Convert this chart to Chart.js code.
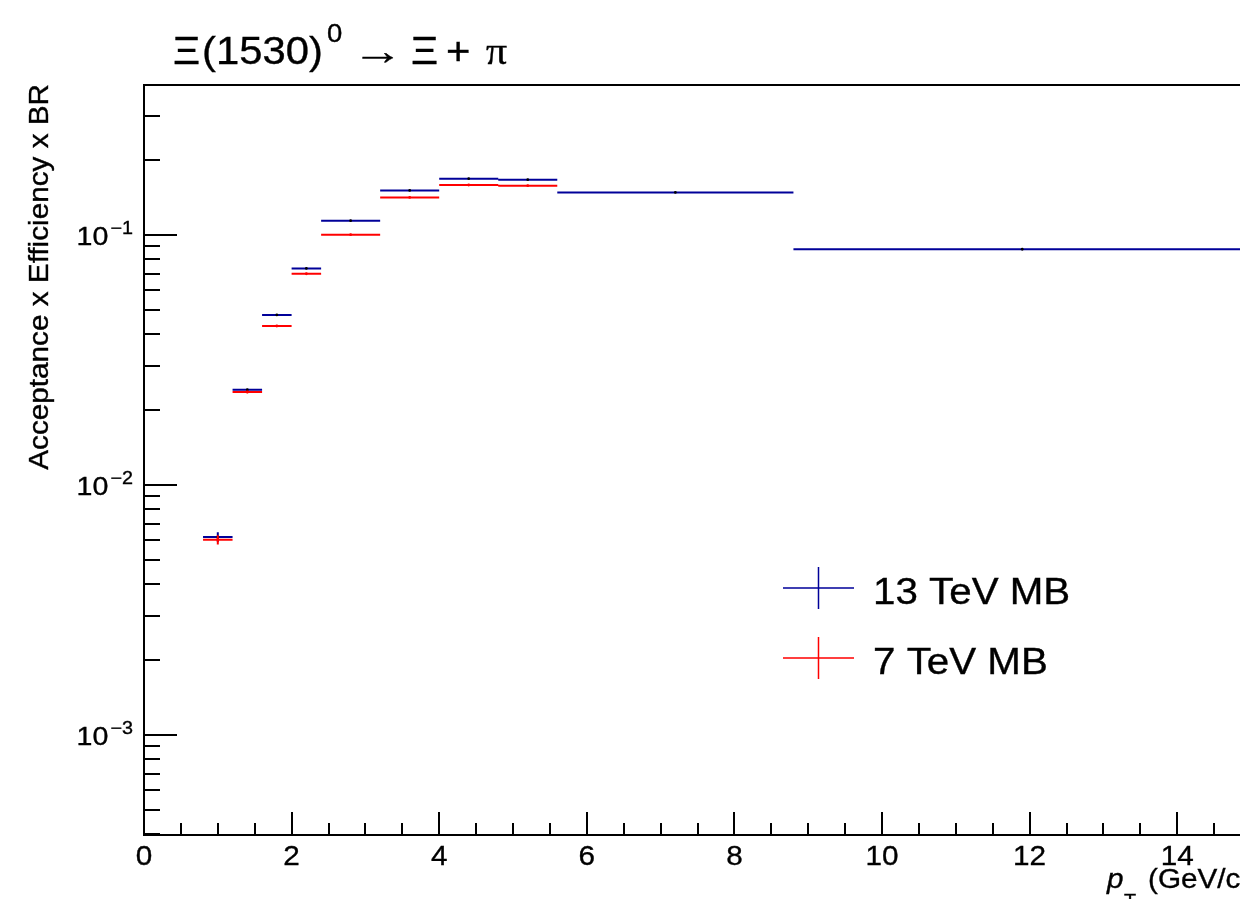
<!DOCTYPE html>
<html>
<head>
<meta charset="utf-8">
<script src="https://cdn.jsdelivr.net/npm/chart.js@4.4.1/dist/chart.umd.min.js"></script>
<style>
  html, body { margin: 0; padding: 0; overflow: hidden; background: #ffffff; }
  #wrap { width: 1240px; height: 899px; overflow: hidden; position: relative; }
  canvas { display: block; }
</style>
</head>
<body>
<div id="wrap"><canvas id="c" width="1300" height="899"></canvas></div>
<script>
// pT bin edges in GeV/c
const binEdges13 = [0.8, 1.2, 1.6, 2.0, 2.4, 3.2, 4.0, 4.8, 5.6, 8.8, 15.0];
const binEdges7  = [0.8, 1.2, 1.6, 2.0, 2.4, 3.2, 4.0, 4.8, 5.6];

// Acceptance x Efficiency x BR per bin, with statistical errors
const eff13 = [0.00619, 0.02405, 0.0479, 0.0735, 0.1141, 0.1508, 0.1680, 0.1664, 0.1480, 0.0877];
const err13 = [0.00028, 0.00022, 0.00033, 0.00040, 0.00050, 0.00060, 0.00060, 0.00060, 0.00050, 0.00040];
const eff7  = [0.00604, 0.02355, 0.04325, 0.0700, 0.1003, 0.1413, 0.1585, 0.1575];
const err7  = [0.00026, 0.00025, 0.00030, 0.00040, 0.00050, 0.00060, 0.00060, 0.00060];

const seriesNames  = ['13 TeV MB', '7 TeV MB'];
const seriesColors = ['#000099', '#ff0000'];

// axis labelling
const xTickValues    = [0, 2, 4, 6, 8, 10, 12, 14];
const yTickExponents = [-3, -2, -1];
const xRange = [0, 15];
const yRange = [Math.pow(10, -3.4), Math.pow(10, -0.4)];

// Horizontal bin-width bar plus vertical error bar for every bin,
// separated by null gaps so the line breaks between pieces.
function histPoints(edges, vals, errs) {
  const pts = [];
  for (let i = 0; i < vals.length; i++) {
    const lo = edges[i], hi = edges[i + 1], c = (lo + hi) / 2;
    const v = vals[i], e = errs[i];
    pts.push({x: lo, y: v}, {x: hi, y: v}, {x: hi, y: null});
    pts.push({x: c, y: v - e}, {x: c, y: v + e}, {x: c, y: null});
  }
  return pts;
}
function centerPoints(edges, vals) {
  return vals.map((v, i) => ({x: (edges[i] + edges[i + 1]) / 2, y: v}));
}

const FONT = '"Liberation Sans", Arial, Helvetica, sans-serif';
const SERIF = '"Liberation Serif", "Times New Roman", serif';
const STRETCH = 1.1;

function drawText(ctx, s, x, y, font, align, stretch, rot) {
  ctx.save();
  ctx.translate(x, y);
  if (rot) ctx.rotate(rot);
  ctx.scale(stretch, 1);
  ctx.font = font;
  ctx.textAlign = align;
  ctx.textBaseline = 'alphabetic';
  ctx.fillStyle = '#000';
  ctx.strokeStyle = '#000';
  ctx.lineWidth = 0.35;
  ctx.fillText(s, 0, 0);
  ctx.strokeText(s, 0, 0);
  ctx.restore();
}
function textWidth(ctx, s, font, stretch) {
  ctx.save();
  ctx.font = font;
  const w = ctx.measureText(s).width * stretch;
  ctx.restore();
  return w;
}
function fitText(ctx, s, x, y, font, width) {
  const w = textWidth(ctx, s, font, 1);
  drawText(ctx, s, x, y, font, 'left', width / w, 0);
}

// Frame, inward ticks, tick labels, titles and legend
const decorations = {
  id: 'decorations',
  afterDraw(chart) {
    const ctx = chart.ctx;
    const xs = chart.scales.x, ys = chart.scales.y;
    const a = chart.chartArea;
    ctx.save();
    ctx.strokeStyle = '#000';
    ctx.lineWidth = 2;
    ctx.strokeRect(a.left, a.top, a.right - a.left, a.bottom - a.top);

    // x ticks: major every 2, minor every 0.5
    ctx.lineWidth = 2;
    ctx.beginPath();
    for (let k = 0; k * 0.5 <= xRange[1]; k++) {
      const px = Math.round(xs.getPixelForValue(k * 0.5));
      const len = (k % 4 === 0) ? 23 : 12;
      ctx.moveTo(px, a.bottom);
      ctx.lineTo(px, a.bottom - len);
    }
    // y ticks: decades long, 2..9 short
    for (let d = -4; d <= 0; d++) {
      for (let m = 1; m <= 9; m++) {
        const v = m * Math.pow(10, d);
        if (v < yRange[0] || v > yRange[1]) continue;
        const py = Math.round(ys.getPixelForValue(v));
        const len = (m === 1) ? 33 : 16;
        ctx.moveTo(a.left, py);
        ctx.lineTo(a.left + len, py);
      }
    }
    ctx.stroke();

    // x tick labels
    xTickValues.forEach(v => {
      drawText(ctx, String(v), xs.getPixelForValue(v), 865, '27px ' + FONT, 'center', STRETCH, 0);
    });
    // y tick labels as 10 with a raised exponent
    yTickExponents.forEach(e => {
      const py = ys.getPixelForValue(Math.pow(10, e));
      const sup = '\u2212' + Math.abs(e);
      const supFont = '18px ' + FONT;
      const supW = textWidth(ctx, sup, supFont, STRETCH);
      drawText(ctx, sup, 133, py - 1, supFont, 'right', STRETCH, 0);
      drawText(ctx, '10', 133 - supW - 2, py + 10, '26px ' + FONT, 'right', STRETCH, 0);
    });

    // y axis title, rotated, ending at the top of the frame
    drawText(ctx, 'Acceptance x Efficiency x BR', 48, a.top - 1, '27px ' + FONT, 'right', STRETCH, -Math.PI / 2);

    // x axis title
    drawText(ctx, 'p', 1107, 888, 'italic 27px ' + FONT, 'left', STRETCH, 0);
    drawText(ctx, 'T', 1124, 907, '18px ' + FONT, 'left', STRETCH, 0);
    drawText(ctx, '(GeV/c)', 1148, 888, '27px ' + FONT, 'left', STRETCH, 0);

    // title
    const tf = '38px ' + FONT;
    drawText(ctx, '\u039E', 173, 64, tf, 'left', STRETCH, 0);
    drawText(ctx, '(1530)', 202, 64, tf, 'left', STRETCH, 0);
    drawText(ctx, '0', 327, 42, '25px ' + FONT, 'left', STRETCH, 0);
    fitText(ctx, '\u2192', 352, 64, tf, 51);
    drawText(ctx, '\u039E', 411, 64, tf, 'left', STRETCH, 0);
    drawText(ctx, '+', 446, 64, tf, 'left', STRETCH, 0);
    drawText(ctx, '\u03C0', 486, 64, '38px ' + SERIF, 'left', STRETCH, 0);

    // legend
    const rows = [588, 658];
    seriesNames.forEach((name, i) => {
      const y = rows[i];
      ctx.strokeStyle = seriesColors[i];
      ctx.lineWidth = 1.5;
      ctx.beginPath();
      ctx.moveTo(783, y); ctx.lineTo(854, y);
      ctx.moveTo(818.5, y - 21); ctx.lineTo(818.5, y + 21);
      ctx.stroke();
      drawText(ctx, name, 873, y + 16, '36px ' + FONT, 'left', 1.12, 0);
    });
    ctx.restore();
  }
};

new Chart(document.getElementById('c'), {
  type: 'line',
  data: {
    datasets: [
      { label: seriesNames[1], data: histPoints(binEdges7, eff7, err7),
        borderColor: seriesColors[1], borderWidth: 2, pointRadius: 0, spanGaps: false, order: 1 },
      { label: seriesNames[1] + ' centre', data: centerPoints(binEdges7, eff7), showLine: false,
        pointRadius: 1.4, pointBackgroundColor: seriesColors[1], pointBorderWidth: 0, order: 0 },
      { label: seriesNames[0], data: histPoints(binEdges13, eff13, err13),
        borderColor: seriesColors[0], borderWidth: 2, pointRadius: 0, spanGaps: false, order: 3 },
      { label: seriesNames[0] + ' centre', data: centerPoints(binEdges13, eff13), showLine: false,
        pointRadius: 1.4, pointBackgroundColor: '#000000', pointBorderWidth: 0, order: 2 }
    ]
  },
  options: {
    responsive: false,
    animation: false,
    devicePixelRatio: 1,
    layout: { padding: { left: 144, top: 85, right: 49, bottom: 64 } },
    scales: {
      x: { type: 'linear', min: xRange[0], max: xRange[1], display: false },
      y: { type: 'logarithmic', min: yRange[0], max: yRange[1], display: false }
    },
    elements: { line: { tension: 0 } },
    plugins: { legend: { display: false }, tooltip: { enabled: false }, title: { display: false } }
  },
  plugins: [decorations]
});
</script>
</body>
</html>
